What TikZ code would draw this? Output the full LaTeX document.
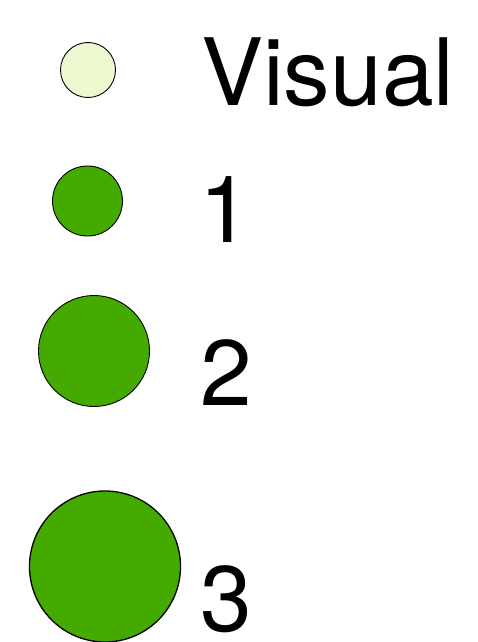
\documentclass[tikz,border=0pt]{standalone}
\usepackage{fontspec}
\setmainfont{TeX Gyre Heros}
\definecolor{dotgreen}{RGB}{68,170,0}
\definecolor{dotlight}{RGB}{236,249,208}
\begin{document}
\begin{tikzpicture}[x=1pt,y=-1pt,
  dot/.style={circle,draw=black,line width=0.9pt,inner sep=0pt,fill=dotgreen},
  lbl/.style={anchor=base west,inner sep=0pt,font=\fontsize{93}{93}\selectfont}]
\useasboundingbox (0,0) rectangle (477,642);
\node[dot,fill=dotlight,minimum size=55] (c0) at (88,70) {};
\node[dot,minimum size=70] (c1) at (87.5,201) {};
\node[dot,minimum size=111] (c2) at (94,351) {};
\node[dot,line width=1.3pt,minimum size=151] (c3) at (105,566.5) {};
\node[lbl] (t0) at (201,105) {Visual};
\node[lbl] (t1) at (199,242) {1};
\node[lbl] (t2) at (200,405) {2};
\node[lbl] (t3) at (200,631) {3};
\end{tikzpicture}
\end{document}
